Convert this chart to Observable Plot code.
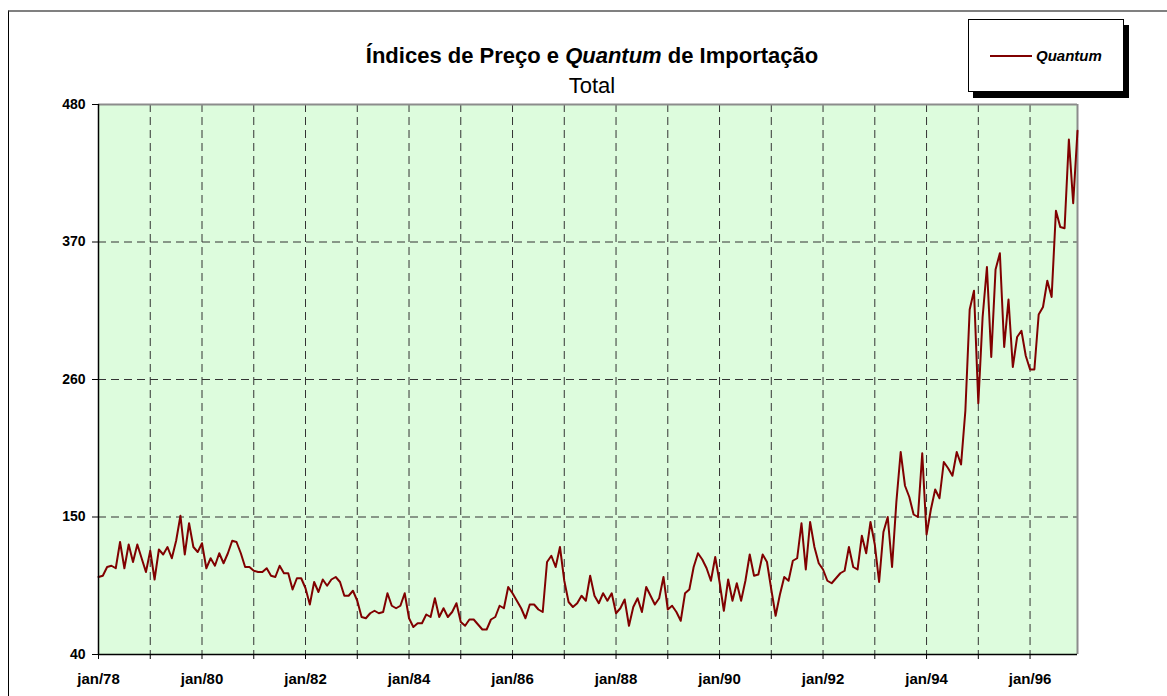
<!DOCTYPE html>
<html>
<head>
<meta charset="utf-8">
<script src="https://cdn.jsdelivr.net/npm/d3@7"></script>
<script src="https://cdn.jsdelivr.net/npm/@observablehq/plot@0.6"></script>
<style>
  html, body { margin: 0; padding: 0; background: #fff; overflow: hidden; }
  body { font-family: "Liberation Sans", Arial, sans-serif; }
  #wrap { position: relative; width: 1167px; height: 696px; }
  #frame { position: absolute; left: 8px; top: 10px; width: 2000px; height: 2000px;
           border-top: 2px solid #808080; border-left: 1.5px solid #000; box-sizing: border-box; pointer-events: none; }
  #header { position: relative; height: 94px; }
  #title { position: absolute; left: 0; width: 1184px; top: 45px; text-align: center;
           font-size: 22px; line-height: 22px; font-weight: bold; color: #000; }
  #subtitle { position: absolute; left: 0; width: 1184px; top: 75px; text-align: center;
              font-size: 22px; line-height: 22px; color: #000; }
  #legend { position: absolute; left: 968px; top: 19px; width: 156px; height: 73px; box-sizing: border-box;
            background: #fff; border: 1px solid #000; box-shadow: 5px 6px 0 #000;
            display: flex; align-items: center; }
  #legend .sw { position: absolute; left: 21px; top: 35px; width: 42px; height: 2px; background: #800000; }
  #legend .lb { position: absolute; left: 67px; top: 27px; font-size: 15px; line-height: 18px;
                font-weight: bold; font-style: italic; }
  #chart svg { display: block; }
</style>
</head>
<body>
<div id="wrap">
  <div id="header">
    <div id="title">Índices de Preço e <i>Quantum</i> de Importação</div>
    <div id="subtitle">Total</div>
  </div>
  <div id="chart"></div>
  <div id="legend"><div class="sw"></div><div class="lb">Quantum</div></div>
  <div id="frame"></div>
</div>
<script>
// Monthly Quantum index of imports, jan/1978 .. dec/1996 (one row per year)
const startYear = 1978;
const quantum = [
  102, 103, 110, 111, 109, 130, 109, 128, 114, 128, 117, 106, // 1978
  123, 100, 124, 120, 126, 117, 131, 151, 120, 145, 126, 122, // 1979
  129, 109, 117, 111, 121, 113, 121, 131, 130, 121, 110, 110, // 1980
  107, 106, 106, 109, 103, 102, 111, 105, 105,  92, 101, 101, // 1981
   93,  80,  98,  90, 100,  95, 100, 102,  98,  87,  87,  91, // 1982
   83,  70,  69,  73,  75,  73,  74,  89,  79,  77,  79,  89, // 1983
   69,  62,  65,  65,  72,  70,  85,  70,  77,  70,  74,  81, // 1984
   66,  63,  68,  68,  64,  60,  60,  68,  70,  79,  77,  94, // 1985
   89,  83,  77,  69,  80,  80,  76,  74, 114, 119, 110, 126, // 1986
   99,  82,  78,  81,  87,  83, 103,  87,  81,  89,  83,  89, // 1987
   73,  77,  84,  63,  78,  85,  74,  94,  87,  80,  85, 102, // 1988
   76,  79,  74,  67,  89,  92, 110, 121, 116, 109,  99, 118, // 1989
   98,  75, 100,  83,  97,  83,  99, 120, 103, 104, 120, 114, // 1990
   92,  71,  88, 102,  99, 115, 117, 145, 108, 146, 126, 113, // 1991
  108,  99,  97, 101, 105, 107, 126, 110, 108, 135, 121, 146, // 1992
  128,  98, 138, 150, 110, 162, 202, 175, 166, 152, 150, 201, // 1993
  136, 156, 172, 165, 194, 189, 183, 202, 192, 235, 316, 331, // 1994
  241, 310, 350, 278, 348, 361, 286, 324, 270, 294, 299, 279, // 1995
  268, 268, 312, 318, 339, 326, 395, 382, 381, 452, 401, 459  // 1996
];
const yTicks = [40, 150, 260, 370, 480];
const xTickLabels = ["jan/78", "jan/80", "jan/82", "jan/84", "jan/86", "jan/88", "jan/90", "jan/92", "jan/94", "jan/96"];
const seriesName = "Quantum";

const data = quantum.map((v, i) => ({month: i, value: v}));
const lastMonth = quantum.length - 1;
const yearStarts = d3.range(0, quantum.length, 12);            // jan of each year
const labelMonths = xTickLabels.map((_, k) => k * 24);          // every two years
const labelOf = new Map(labelMonths.map((m, k) => [m, xTickLabels[k]]));

const plot = Plot.plot({
  width: 1167,
  height: 602,
  marginTop: 10,
  marginBottom: 42,
  marginLeft: 98,
  marginRight: 90,
  style: {fontFamily: "'Liberation Sans', Arial, sans-serif", background: "transparent", overflow: "visible"},
  x: {domain: [0, lastMonth]},
  y: {domain: [yTicks[0], yTicks[yTicks.length - 1]]},
  marks: [
    Plot.frame({fill: "#ddfcdd", stroke: null}),
    Plot.ruleY(yTicks.slice(1, -1), {stroke: "#333", strokeWidth: 1, strokeDasharray: "8,5"}),
    Plot.ruleX(yearStarts.slice(1), {stroke: "#333", strokeWidth: 1, strokeDasharray: "8,5"}),
    Plot.ruleY([yTicks[yTicks.length - 1]], {stroke: "#8c8c8c", strokeWidth: 2}),
    Plot.ruleX([lastMonth], {stroke: "#8c8c8c", strokeWidth: 2}),
    Plot.line(data, {x: "month", y: "value", stroke: "#800000", strokeWidth: 2}),
    Plot.ruleX([0], {stroke: "#000", strokeWidth: 1.5}),
    Plot.ruleY([yTicks[0]], {stroke: "#000", strokeWidth: 1.5}),
    Plot.axisY({ticks: yTicks, tickSize: 6, tickPadding: 7, fontSize: 14, fontWeight: "bold", stroke: "#000", fill: "#000", label: null}),
    Plot.axisX({ticks: yearStarts, tickSize: 5, tickFormat: () => "", stroke: "#000", label: null}),
    Plot.axisX({ticks: labelMonths, tickSize: 0, tickPadding: 19, tickFormat: m => labelOf.get(m), fontSize: 15, fontWeight: "bold", fill: "#000", label: null})
  ]
});
document.getElementById("chart").appendChild(plot);
document.querySelector("#legend .lb").textContent = seriesName;
</script>
</body>
</html>
